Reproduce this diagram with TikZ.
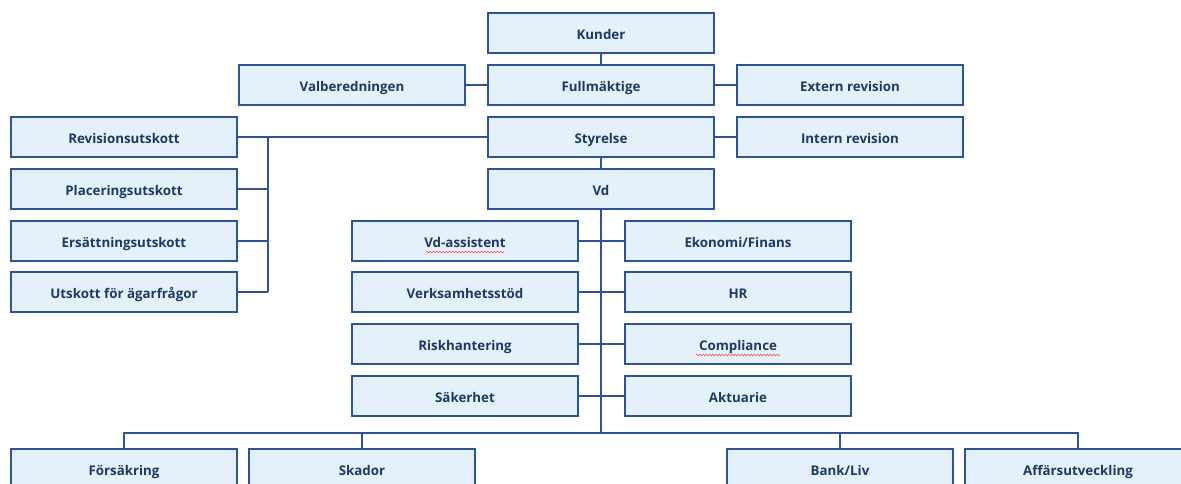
\documentclass[tikz,border=0pt]{standalone}
\usepackage{fontspec}
\setmainfont{Open Sans}
\usetikzlibrary{positioning, calc, decorations.pathmorphing}
\definecolor{orgline}{RGB}{47, 84, 150}
\definecolor{orgfill}{RGB}{228, 241, 251}
\definecolor{orgtext}{RGB}{31, 56, 100}
\tikzset{
  unit/.style={draw=orgline, fill=orgfill, line width=1pt, minimum width=169.5pt, minimum height=30pt,
    inner sep=0pt, text height=10pt, text depth=0pt, text=orgtext, font=\fontsize{10}{12}\selectfont\bfseries},
  link/.style={draw=orgline, line width=1pt},
  spell/.style={draw=red!75, line width=0.4pt, decorate, decoration={snake, amplitude=0.6pt, segment length=2.4pt}}
}

\begin{document}
\begin{tikzpicture}[x=0.75pt, y=-0.75pt]
\useasboundingbox (0,0) rectangle (1181,484);
\clip (0,0) rectangle (1181,484);

% Governance
\node[unit] (kunder) at (601,33) {Kunder};
\node[unit] (fullm) at (601,85) {Fullmäktige};
\node[unit] (valb) at (352,85) {Valberedningen};
\node[unit] (extrev) at (850,85) {Extern revision};
\node[unit] (styr) at (601,137) {Styrelse};
\node[unit] (intrev) at (850,137) {Intern revision};
\node[unit] (vd) at (601,189) {Vd};

\draw[link] (kunder) -- (fullm);
\draw[link] (valb) -- (fullm);
\draw[link] (fullm) -- (extrev);
\draw[link] (styr) -- (intrev);
\draw[link] (styr) -- (vd);

% Board committees
\node[unit] (revu) at (124,137) {Revisionsutskott};
\node[unit] (plau) at (124,189) {Placeringsutskott};
\node[unit] (ersu) at (124,241) {Ersättningsutskott};
\node[unit] (agaru) at (124,292) {Utskott för ägarfrågor};

\coordinate (komm) at (268,137);
\draw[link] (revu) -- (styr);
\draw[link] (komm) -- (komm |- agaru.east);
\foreach \n in {plau, ersu, agaru} {
    \draw[link] (\n.east) -- (komm |- \n.east);
}

% Staff functions
\node[unit] (vdass) at (465,241) {Vd-assistent};
\node[unit] (ekon) at (738,241) {Ekonomi/Finans};
\node[unit] (verks) at (465,292) {Verksamhetsstöd};
\node[unit] (hr) at (738,292) {HR};
\node[unit] (risk) at (465,344) {Riskhantering};
\node[unit] (compl) at (738,344) {Compliance};
\node[unit] (sak) at (465,396) {Säkerhet};
\node[unit] (akt) at (738,396) {Aktuarie};

\coordinate (spine) at (601,433);
\draw[link] (vd) -- (spine);
\foreach \l/\r in {vdass/ekon, verks/hr, risk/compl, sak/akt} {
    \draw[link] (\l) -- (\r);
}

% spell check marks
\draw[spell] ($(vdass.center)+(-39,11)$) -- ($(vdass.center)+(39,11)$);
\draw[spell] ($(compl.center)+(-42,11)$) -- ($(compl.center)+(42,11)$);

% Business areas
\node[unit] (fors) at (124,469) {Försäkring};
\node[unit] (skad) at (362,469) {Skador};
\node[unit] (bank) at (840,469) {Bank/Liv};
\node[unit] (affu) at (1078,469) {Affärsutveckling};

\draw[link] (fors.north) |- (spine) -| (affu.north);
\draw[link] (skad.north) -- (skad.north |- spine);
\draw[link] (bank.north) -- (bank.north |- spine);
\end{tikzpicture}
\end{document}
